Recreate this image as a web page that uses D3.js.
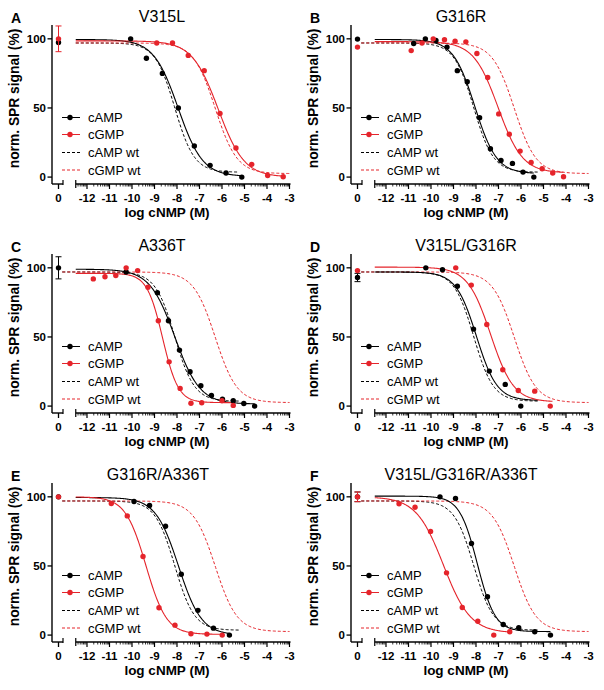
<!DOCTYPE html>
<html><head><meta charset="utf-8">
<script src="https://cdn.jsdelivr.net/npm/d3@7"></script>
<style>
html,body{margin:0;padding:0;background:#fff;}
svg{display:block;font-family:"Liberation Sans",Arial,sans-serif;}
</style></head>
<body><svg id="chart" width="604" height="690"></svg>
<script>
// ---------- DATA ----------
const panelLetters = ["A","B","C","D","E","F"];
const panelTitles = ["V315L","G316R","A336T","V315L/G316R","G316R/A336T","V315L/G316R/A336T"];
const legendLabels = ["cAMP","cGMP","cAMP wt","cGMP wt"];
const xTickValues = [-12,-11,-10,-9,-8,-7,-6,-5,-4,-3];
const yTickValues = [0,50,100];

// measured points: [log cNMP (M), norm. SPR signal (%)]
const cAMPPoints = [
  [[-10.06,100],[-9.36,86],[-8.65,75],[-7.94,50],[-7.23,22.5],[-6.53,8.5],[-5.82,3],[-5.12,0]],
  [[-10.77,96.6],[-10.25,100],[-9.78,98.8],[-9.29,94],[-8.83,77],[-8.39,69],[-7.84,43],[-7.36,20.5],[-6.89,12],[-6.38,9.9],[-5.91,3.6],[-5.43,0]],
  [[-10.26,97],[-8.87,82],[-8.38,61.7],[-7.89,40.5],[-7.42,24.8],[-6.94,14.7],[-6.47,7.7],[-5.98,5],[-5.5,3.9],[-5.03,1.9],[-4.55,0]],
  [[-10.23,100],[-9.49,98.6],[-8.83,86.7],[-8.11,55.7],[-7.41,25.3],[-6.70,15.7],[-6.01,0]],
  [[-9.91,96.6],[-9.22,93.7],[-8.51,78.7],[-7.81,44],[-7.07,17.9],[-6.38,5],[-5.67,0]],
  [[-9.6,100],[-8.91,98.8],[-8.2,66.2],[-7.49,27.8],[-6.79,7.7],[-6.1,5.3],[-5.39,2.4],[-4.69,0]]
];
const cGMPPoints = [
  [[-8.9,97],[-8.2,97],[-7.5,88],[-6.79,77],[-6.09,46],[-5.38,21],[-4.68,9.2],[-3.97,1.2],[-3.28,0.2]],
  [[-10.88,91.5],[-10.4,97],[-9.9,100],[-9.4,99.3],[-8.93,98.3],[-8.45,97.8],[-7.96,89.4],[-7.48,72],[-6.99,45.7],[-6.52,31],[-6.04,18.8],[-5.55,10.6],[-5.06,6],[-4.59,3],[-4.11,0.2]],
  [[-11.72,92],[-11.2,93.5],[-10.72,94.4],[-10.26,100],[-9.75,98],[-9.29,86],[-8.83,61.7],[-8.35,32],[-7.86,12.8],[-7.38,2],[-6.9,2.4],[-6.0,3.9],[-5.5,0.5]],
  [[-8.9,100],[-8.21,87.5],[-7.52,59],[-6.81,26.3],[-6.12,11.3],[-5.39,10.8],[-4.70,0]],
  [[-10.92,95.2],[-10.21,86.2],[-9.51,56.8],[-8.8,19.8],[-8.09,7.2],[-7.38,1],[-6.67,0.7],[-5.99,0]],
  [[-11.42,95],[-10.71,92.5],[-10.02,75],[-9.31,45],[-8.61,20],[-7.92,10],[-7.21,0],[-6.5,2.4]]
];
// no-ligand points (plotted at "0") with error (±)
const cAMPZeroValues = [97.3, 99.8, 100, 93, 100, 100];
const cAMPZeroErrors = [0, 0, 8, 3, 0, 3.5];
const cGMPZeroValues = [100, 94, null, 98, 100, 100];
const cGMPZeroErrors = [9.3, 0, 0, 0, 0, 3.5];

// fitted dose-response parameters: [top, bottom, logEC50, Hill slope]
const cAMPFit = [[99.5,0.5,-7.95,0.8],[99.5,2.5,-8.05,0.9],[99,1.5,-8.1,0.78],[97,4,-7.98,0.95],[99.5,0,-7.93,0.85],[100.5,2.5,-7.94,1.1]];
const cGMPFit = [[98.5,0,-6.17,0.75],[98,3,-7.02,0.8],[96,2.5,-8.64,1.25],[100.5,3,-7.35,0.85],[100,0.5,-9.38,0.95],[100,1.5,-9.45,0.72]];
const cAMPFitEnd = [-5.12,-5.43,-4.55,-5.25,-5.67,-4.69];
const cGMPFitEnd = [-3.28,-4.11,-5.5,-4.6,-5.99,-6.5];
const cAMPwtFit = [97,3.5,-8.1,1.0];
const cGMPwtFit = [97,2.5,-6.3,0.9];
const wtStart = [-12.5,-13.1,-13.1,-13.1,-13.1,-13.1];
const cAMPwtEnd = -5.25;
const cGMPwtEnd = -3.0;
const fitStart = -12.5;

// ---------- LAYOUT ----------
const RED = "#e5242b", BLACK = "#000";
const colOffset = [0, 299], rowOffset = [0, 229, 458];
const titleX = [162, 162, 162, 167, 158, 162];

const svg = d3.select("#chart");
const x = d3.scaleLinear().domain([-12.5, -3]).range([75.75, 289.5]);
const x0 = d3.scaleLinear().domain([-1, 1]).range([54, 63]);
const y = d3.scaleLinear().domain([-5, 110]).range([184, 25]);
const axisY = 184, axisX = 52;

function logistic(p, lx) { return p[1] + (p[0] - p[1]) / (1 + Math.pow(10, (lx - p[2]) * p[3])); }
function curvePts(p, a, b) {
  const n = 200, out = [];
  for (let i = 0; i <= n; i++) { const lx = a + (b - a) * i / n; out.push([lx, logistic(p, lx)]); }
  return out;
}
const line = d3.line().x(d => x(d[0])).y(d => y(d[1]));

// minor tick positions
const minorTicks = [];
for (let dec = -13; dec < -3; dec++) for (let k = 2; k <= 9; k++) {
  const v = dec + Math.log10(k);
  if (v >= -12.5 && v <= -3) minorTicks.push(v);
}

panelLetters.forEach((L, i) => {
  const g = svg.append("g").attr("transform", `translate(${colOffset[i % 2]},${rowOffset[Math.floor(i / 2)]})`);

  g.append("text").attr("x", 11).attr("y", 23).attr("font-weight", "bold").attr("font-size", 14).text(L);
  g.append("text").attr("x", titleX[i]).attr("y", 21.5).attr("text-anchor", "middle").attr("font-size", 16).text(panelTitles[i]);

  // Y axis
  g.append("line").attr("x1", axisX).attr("x2", axisX).attr("y1", y(110)).attr("y2", axisY).attr("stroke", BLACK).attr("stroke-width", 1.4);
  yTickValues.forEach(t => {
    g.append("line").attr("x1", axisX - 4.5).attr("x2", axisX).attr("y1", y(t)).attr("y2", y(t)).attr("stroke", BLACK).attr("stroke-width", 1.3);
    g.append("text").attr("x", axisX - 6).attr("y", y(t)).attr("dy", "0.36em").attr("text-anchor", "end")
      .attr("font-weight", "bold").attr("font-size", 11.5).text(t);
  });
  g.append("text").attr("transform", `translate(18.5,${(y(110) + axisY) / 2 - 6}) rotate(-90)`).attr("text-anchor", "middle")
    .attr("font-weight", "bold").attr("font-size", 13.8).text("norm. SPR signal (%)");

  // X axis: zero segment
  g.append("line").attr("x1", axisX).attr("x2", x0(1)).attr("y1", axisY).attr("y2", axisY).attr("stroke", BLACK).attr("stroke-width", 1.4);
  g.append("line").attr("x1", x0(0)).attr("x2", x0(0)).attr("y1", axisY).attr("y2", axisY + 5).attr("stroke", BLACK).attr("stroke-width", 1.3);
  g.append("line").attr("x1", x0(1)).attr("x2", x0(1)).attr("y1", axisY - 4).attr("y2", axisY + 1).attr("stroke", BLACK).attr("stroke-width", 1.2);
  g.append("text").attr("x", x0(0)).attr("y", 201.5).attr("text-anchor", "middle").attr("font-weight", "bold").attr("font-size", 11.5).text("0");
  // main log segment
  g.append("line").attr("x1", x(-12.5)).attr("x2", x(-3) + 1).attr("y1", axisY).attr("y2", axisY).attr("stroke", BLACK).attr("stroke-width", 1.4);
  g.append("line").attr("x1", x(-12.5)).attr("x2", x(-12.5)).attr("y1", axisY - 4).attr("y2", axisY + 4).attr("stroke", BLACK).attr("stroke-width", 1.2);
  minorTicks.forEach(v => {
    g.append("line").attr("x1", x(v)).attr("x2", x(v)).attr("y1", axisY).attr("y2", axisY + 2.5).attr("stroke", BLACK).attr("stroke-width", 0.8);
  });
  xTickValues.forEach(t => {
    g.append("line").attr("x1", x(t)).attr("x2", x(t)).attr("y1", axisY).attr("y2", axisY + 5).attr("stroke", BLACK).attr("stroke-width", 1.2);
    g.append("text").attr("x", x(t)).attr("y", 201.5).attr("text-anchor", "middle").attr("font-weight", "bold").attr("font-size", 11.5).text(String(t));
  });
  g.append("text").attr("x", 167).attr("y", 216.8).attr("text-anchor", "middle").attr("font-weight", "bold").attr("font-size", 13.5).text("log cNMP (M)");

  // wt dashed curves
  g.append("path").attr("d", line(curvePts(cAMPwtFit, wtStart[i], cAMPwtEnd))).attr("fill", "none").attr("stroke", BLACK).attr("stroke-width", 1).attr("stroke-dasharray", "3,2");
  g.append("path").attr("d", line(curvePts(cGMPwtFit, wtStart[i], cGMPwtEnd))).attr("fill", "none").attr("stroke", RED).attr("stroke-width", 1).attr("stroke-dasharray", "3,2");
  // fitted solid curves
  g.append("path").attr("d", line(curvePts(cAMPFit[i], fitStart, cAMPFitEnd[i]))).attr("fill", "none").attr("stroke", BLACK).attr("stroke-width", 1.1);
  g.append("path").attr("d", line(curvePts(cGMPFit[i], fitStart, cGMPFitEnd[i]))).attr("fill", "none").attr("stroke", RED).attr("stroke-width", 1.1);

  // zero points with error bars
  function zero(v, e, col) {
    if (v == null) return;
    if (e > 0) {
      g.append("line").attr("x1", x0(0)).attr("x2", x0(0)).attr("y1", y(v - e)).attr("y2", y(v + e)).attr("stroke", col).attr("stroke-width", 1);
      [v - e, v + e].forEach(w => g.append("line").attr("x1", x0(0) - 3).attr("x2", x0(0) + 3).attr("y1", y(w)).attr("y2", y(w)).attr("stroke", col).attr("stroke-width", 1));
    }
    g.append("circle").attr("cx", x0(0)).attr("cy", y(v)).attr("r", 2.7).attr("fill", col);
  }
  zero(cAMPZeroValues[i], cAMPZeroErrors[i], BLACK);
  zero(cGMPZeroValues[i], cGMPZeroErrors[i], RED);

  // data points
  g.selectAll(null).data(cAMPPoints[i]).enter().append("circle").attr("cx", d => x(d[0])).attr("cy", d => y(d[1])).attr("r", 2.7).attr("fill", BLACK);
  g.selectAll(null).data(cGMPPoints[i]).enter().append("circle").attr("cx", d => x(d[0])).attr("cy", d => y(d[1])).attr("r", 2.7).attr("fill", RED);

  // legend
  const legY = [117.5, 134.5, 152.5, 170];
  const legCol = [BLACK, RED, BLACK, RED];
  legendLabels.forEach((lab, k) => {
    const ln = g.append("line").attr("x1", 62).attr("x2", 80).attr("y1", legY[k]).attr("y2", legY[k]).attr("stroke", legCol[k]).attr("stroke-width", 1);
    if (k >= 2) ln.attr("stroke-dasharray", "3,2");
    else g.append("circle").attr("cx", 70).attr("cy", legY[k]).attr("r", 2.7).attr("fill", legCol[k]);
    g.append("text").attr("x", 88).attr("y", legY[k]).attr("dy", "0.35em").attr("font-size", 13).text(lab);
  });
});
</script></body></html>
